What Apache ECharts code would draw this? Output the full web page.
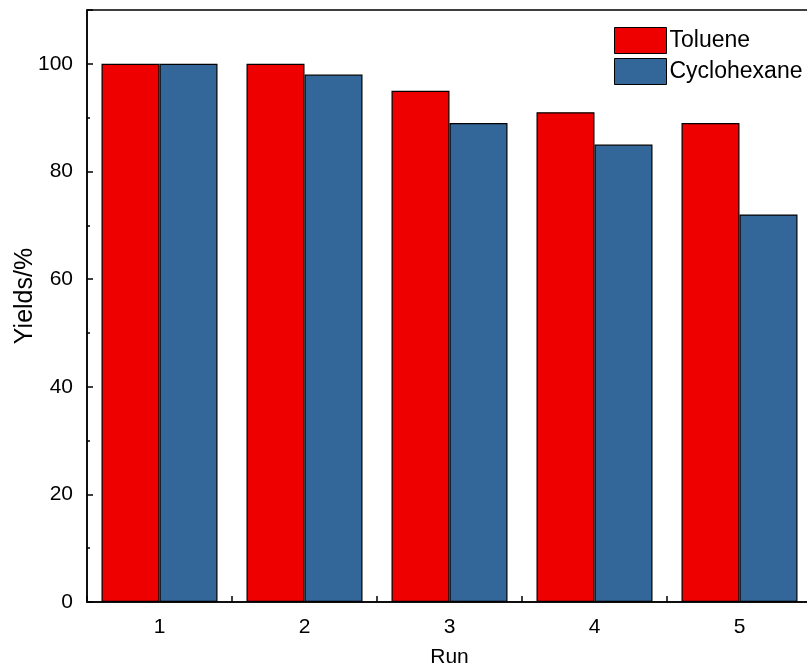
<!DOCTYPE html>
<html><head><meta charset="utf-8">
<script src="https://cdn.jsdelivr.net/npm/echarts@6/dist/echarts.min.js"></script>
<style>html,body{margin:0;padding:0;background:#fff}#c{width:807px;height:665px}</style>
</head><body><div id="c"></div>
<script>
const categories = ['1','2','3','4','5'];
const toluene = [100,100,95,91,89];
const cyclohexane = [100,98,89,85,72];
const yTicks = [0,20,40,60,80,100];

const chart = echarts.init(document.getElementById('c'));
const font = 'Liberation Sans, Arial, sans-serif';
chart.setOption({
  animation:false,
  grid:{left:87, top:10, width:725, height:592, show:true, borderColor:'#000', borderWidth:1.5,
        backgroundColor:'transparent', outerBoundsMode:'none', containLabel:false},
  legend:{
    left:609, top:22, orient:'vertical', itemWidth:52, itemHeight:26, itemGap:4,
    icon:'rect',
    textStyle:{fontFamily:font, fontSize:23, color:'#000', padding:[0,0,0,-2]},
    data:[{name:'Toluene', itemStyle:{borderColor:'#000',borderWidth:1}},{name:'Cyclohexane', itemStyle:{borderColor:'#000',borderWidth:1}}]
  },
  xAxis:[{
    type:'category', data:categories,
    name:'Run', nameLocation:'middle', nameGap:45,
    nameTextStyle:{fontFamily:font, fontSize:21, color:'#000'},
    axisLine:{lineStyle:{color:'#000', width:1.5}},
    axisTick:{show:true, inside:true, length:6, lineStyle:{color:'#000', width:1.5}},
    axisLabel:{fontFamily:font, fontSize:21, color:'#000', margin:15},
    splitLine:{show:false}
  }],
  yAxis:{
    type:'value', min:0, max:110, interval:20,
    name:'Yields/%', nameLocation:'middle', nameGap:49, nameMoveOverlap:false,
    nameTextStyle:{fontFamily:font, fontSize:25, color:'#000', padding:[0,0,0,20]},
    axisLine:{show:true, lineStyle:{color:'#000', width:1.5}},
    axisTick:{show:true, inside:true, length:6, lineStyle:{color:'#000', width:1.5}},
    minorTick:{show:true, splitNumber:2, length:3, lineStyle:{color:'#000', width:1.5}},
    axisLabel:{fontFamily:font, fontSize:21, color:'#000', margin:14,
      formatter:v=> yTicks.includes(v) ? String(v) : ''},
    splitLine:{show:false}
  },
  series:[
    {name:'Toluene', type:'bar', data:toluene, barGap:'0%', barCategoryGap:'20%',
     itemStyle:{color:'#EE0000', borderColor:'#000', borderWidth:1.2}},
    {name:'Cyclohexane', type:'bar', data:cyclohexane, barGap:'0%', barCategoryGap:'20%',
     itemStyle:{color:'#336699', borderColor:'#000', borderWidth:1.2}}
  ]
});
</script></body></html>
